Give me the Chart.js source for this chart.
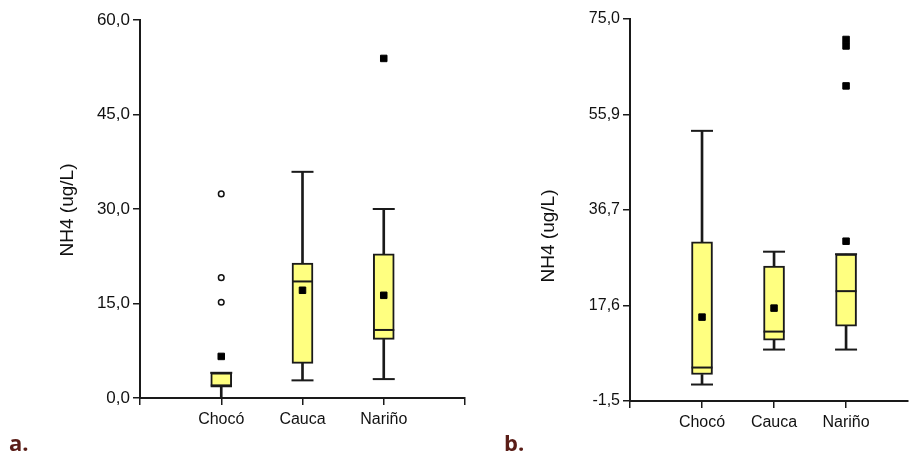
<!DOCTYPE html>
<html>
<head>
<meta charset="utf-8">
<script src="https://cdn.jsdelivr.net/npm/chart.js@4.4.0/dist/chart.umd.min.js"></script>
<style>
  body { margin: 0; background: #fff; }
  #wrap { position: relative; width: 909px; height: 452px; overflow: hidden; }
  .panel { position: absolute; top: 0; height: 440px; }
  #pa { left: 0; width: 478px; }
  #pb { left: 460px; width: 461px; }
  .tag { position: absolute; top: 431px; font: bold 22px/22px "Open Sans", sans-serif; color: #5a1d17; }
</style>
</head>
<body>
<div id="wrap">
  <div class="panel" id="pa"><canvas id="grafA"></canvas></div>
  <div class="panel" id="pb"><canvas id="grafB"></canvas></div>
  <div class="tag" style="left:9px">a.</div>
  <div class="tag" style="left:504px">b.</div>
</div>
<script>
const regiones = ["Chocó", "Cauca", "Nariño"];

// a. NH4 (ug/L)
const aMin = [0.0, 2.8, 3.0];
const aQ1 = [1.7, 5.5, 9.3];
const aMediana = [2.0, 18.5, 10.8];
const aQ3 = [4.0, 21.4, 22.9];
const aMax = [4.0, 35.9, 30.0];
const aMedia = [6.6, 17.1, 16.3];
const aAtipicos = [[32.4, 19.1, 15.2], [], []];
const aExtremos = [[], [], [53.9]];
const aTicks = [0, 15, 30, 45, 60];
const aTickLabels = ["0,0", "15,0", "30,0", "45,0", "60,0"];

// b. NH4 (ug/L)
const bMin = [1.8, 8.8, 8.8];
const bQ1 = [3.8, 10.7, 13.5];
const bMediana = [5.2, 12.4, 20.5];
const bQ3 = [30.4, 25.5, 27.9];
const bMax = [52.6, 28.4, 27.9];
const bMedia = [15.3, 17.1, 30.5];
const bAtipicos = [[], [], []];
const bExtremos = [[], [], [61.6, 69.6, 70.9]];
const bTicks = [-1.5, 17.625, 36.75, 55.875, 75];
const bTickLabels = ["-1,5", "17,6", "36,7", "55,9", "75,0"];

const TINTA = "#1a1a1a";
const FUENTE = "'Liberation Sans', Arial, sans-serif";

// titulo vertical del eje y
const tituloY = {
  id: "tituloY",
  afterDraw(chart, args, o) {
    const ctx = chart.ctx;
    ctx.save();
    ctx.translate(o.x, o.y);
    ctx.rotate(-Math.PI / 2);
    ctx.font = o.size + "px " + FUENTE;
    ctx.fillStyle = "#111";
    ctx.textAlign = "center";
    ctx.textBaseline = "middle";
    ctx.fillText(o.text, 0, 0);
    ctx.restore();
  }
};

function puntos(listas) {
  const out = [];
  listas.forEach((vals, i) => vals.forEach((v) => out.push({ x: i + 1, y: v })));
  return out;
}

function conjuntos(d) {
  const pos = regiones.map((r, i) => i + 1);
  const bigote = { type: "bar", barThickness: 2, backgroundColor: TINTA, grouped: false, order: 7 };
  return [
    { ...bigote, data: pos.map((x, i) => ({ x, y: [d.min[i], d.q1[i]] })) },
    { ...bigote, data: pos.map((x, i) => ({ x, y: [d.q3[i], d.max[i]] })) },
    {
      type: "bar",
      data: pos.map((x, i) => ({ x, y: [d.q1[i], d.q3[i]] })),
      barThickness: 21,
      backgroundColor: "#ffff80",
      borderColor: TINTA,
      borderWidth: 2,
      borderSkipped: false,
      grouped: false,
      order: 6
    },
    {
      type: "scatter",
      data: pos.flatMap((x, i) => [{ x, y: d.min[i] }, { x, y: d.max[i] }]),
      pointStyle: "line",
      pointRadius: 11,
      pointBorderColor: TINTA,
      pointBorderWidth: 2,
      order: 5
    },
    {
      type: "scatter",
      data: pos.map((x, i) => ({ x, y: d.med[i] })),
      pointStyle: "line",
      pointRadius: 10.5,
      pointBorderColor: TINTA,
      pointBorderWidth: 2,
      order: 4
    },
    {
      type: "scatter",
      data: pos.map((x, i) => ({ x, y: d.media[i] })).concat(puntos(d.extremos)),
      pointStyle: "rect",
      pointRadius: 4.6,
      pointBackgroundColor: "#000",
      pointBorderColor: "#000",
      pointBorderWidth: 1,
      order: 2
    },
    {
      type: "scatter",
      data: puntos(d.atipicos),
      pointStyle: "circle",
      pointRadius: 2.8,
      pointBackgroundColor: "#fff",
      pointBorderColor: "#111",
      pointBorderWidth: 1.5,
      order: 1
    }
  ];
}

function grafico(id, d, cfg) {
  return new Chart(document.getElementById(id), {
    type: "bar",
    data: { datasets: conjuntos(d) },
    options: {
      responsive: true,
      maintainAspectRatio: false,
      animation: false,
      events: [],
      layout: { padding: { top: cfg.top, right: cfg.right, left: 0, bottom: 0 } },
      plugins: {
        legend: { display: false },
        tooltip: { enabled: false },
        tituloY: { text: "NH4 (ug/L)", x: cfg.tx, y: cfg.ty, size: 19 }
      },
      scales: {
        x: {
          type: "linear",
          min: 0,
          max: cfg.xmax,
          offset: false,
          afterBuildTicks: (s) => { s.ticks = cfg.xticks.map((v) => ({ value: v })); },
          afterFit: (s) => { s.height = cfg.xh; },
          grid: { display: true, offset: false, drawOnChartArea: false, drawTicks: true, tickLength: 7, color: TINTA, lineWidth: 1.5 },
          border: { display: true, color: TINTA, width: 2 },
          ticks: {
            autoSkip: false,
            maxRotation: 0,
            padding: 5,
            color: "#111",
            font: { family: FUENTE, size: 16 },
            callback: (v) => regiones[v - 1] || ""
          }
        },
        y: {
          min: d.ticks[0],
          max: d.ticks[d.ticks.length - 1],
          afterBuildTicks: (s) => { s.ticks = d.ticks.map((v) => ({ value: v })); },
          afterFit: (s) => { s.width = cfg.yw; },
          grid: { display: true, drawOnChartArea: false, drawTicks: true, tickLength: 7, color: TINTA, lineWidth: 1.5 },
          border: { display: true, color: TINTA, width: 2 },
          ticks: {
            padding: 3,
            color: "#111",
            font: { family: FUENTE, size: cfg.ysize },
            callback: (v, i) => d.labels[i]
          }
        }
      }
    },
    plugins: [tituloY]
  });
}

grafico("grafA", {
  min: aMin, q1: aQ1, med: aMediana, q3: aQ3, max: aMax, media: aMedia,
  atipicos: aAtipicos, extremos: aExtremos, ticks: aTicks, labels: aTickLabels
}, { top: 20, right: 5, xh: 42, yw: 140, xmax: 4, xticks: [0, 1, 2, 3, 4], tx: 68, ty: 210, ysize: 17 });

grafico("grafB", {
  min: bMin, q1: bQ1, med: bMediana, q3: bQ3, max: bMax, media: bMedia,
  atipicos: bAtipicos, extremos: bExtremos, ticks: bTicks, labels: bTickLabels
}, { top: 19, right: 1, xh: 39, yw: 170, xmax: 3.86, xticks: [0, 1, 2, 3], tx: 89, ty: 236, ysize: 16 });
</script>
</body>
</html>
